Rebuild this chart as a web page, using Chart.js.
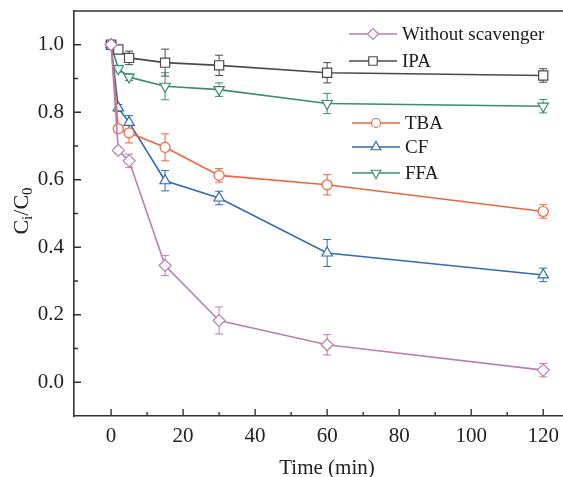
<!DOCTYPE html>
<html>
<head>
<meta charset="utf-8">
<script src="https://cdn.jsdelivr.net/npm/chart.js@4.4.0/dist/chart.umd.min.js"></script>
<style>
  body { margin: 0; background: #fff; }
</style>
</head>
<body>
<canvas id="chart" width="563" height="477"></canvas>
<script>
// time points (min)
const times = [0, 2, 5, 15, 30, 60, 120];

const seriesNames = ["Without scavenger", "IPA", "TBA", "CF", "FFA"];

// Ci/C0 values
const withoutScav = [1.0, 0.687, 0.656, 0.346, 0.183, 0.111, 0.036];
const ipa = [1.0, 0.986, 0.961, 0.947, 0.939, 0.917, 0.909];
const tba = [1.0, 0.751, 0.739, 0.696, 0.613, 0.585, 0.506];
const cf = [1.0, 0.813, 0.770, 0.597, 0.546, 0.383, 0.318];
const ffa = [1.0, 0.929, 0.904, 0.877, 0.867, 0.826, 0.818];

// error bar half-heights
const withoutScavErr = [0.01, 0.01, 0.02, 0.03, 0.04, 0.03, 0.02];
const ipaErr = [0.01, 0.01, 0.02, 0.04, 0.03, 0.03, 0.02];
const tbaErr = [0.01, 0.01, 0.03, 0.04, 0.02, 0.03, 0.02];
const cfErr = [0.01, 0.01, 0.02, 0.03, 0.02, 0.04, 0.02];
const ffaErr = [0.01, 0.01, 0.01, 0.04, 0.02, 0.03, 0.02];

const xTicks = [0, 20, 40, 60, 80, 100, 120];
const yTicks = [0.0, 0.2, 0.4, 0.6, 0.8, 1.0];

const allValues = [withoutScav, ipa, tba, cf, ffa];
const allErrors = [withoutScavErr, ipaErr, tbaErr, cfErr, ffaErr];
const colors = ["#b97fb4", "#4a4a4a", "#f0643f", "#2f6cb2", "#3c8c70"];
const markers = ["rectRot", "rect", "circle", "triangle", "triangle"];
const markerRot = [0, 0, 0, 0, 180];
const markerSize = [6, 6.5, 5, 6, 6];

const serif = "'Liberation Serif', 'DejaVu Serif', serif";

const datasets = seriesNames.map((name, i) => ({
  label: name,
  data: times.map((t, j) => ({ x: t, y: allValues[i][j] })),
  borderColor: colors[i],
  backgroundColor: "#ffffff",
  borderWidth: 1.6,
  pointStyle: markers[i],
  pointRotation: markerRot[i],
  pointRadius: markerSize[i],
  pointBorderWidth: 1.2,
  pointBackgroundColor: "#ffffff",
  pointBorderColor: colors[i],
  tension: 0
}));

const errorBarPlugin = {
  id: "errorBars",
  beforeDatasetsDraw(chart) {
    const ctx = chart.ctx;
    const xs = chart.scales.x;
    const ys = chart.scales.y;
    ctx.save();
    ctx.lineWidth = 1;
    allValues.forEach((vals, i) => {
      ctx.strokeStyle = colors[i];
      vals.forEach((v, j) => {
        const e = allErrors[i][j];
        const px = xs.getPixelForValue(times[j]);
        const top = ys.getPixelForValue(v + e);
        const bot = ys.getPixelForValue(v - e);
        ctx.beginPath();
        ctx.moveTo(px, top);
        ctx.lineTo(px, bot);
        ctx.moveTo(px - 4, top);
        ctx.lineTo(px + 4, top);
        ctx.moveTo(px - 4, bot);
        ctx.lineTo(px + 4, bot);
        ctx.stroke();
      });
    });
    ctx.restore();
  }
};

// inward ticks, top frame line, legend and axis titles
const decorPlugin = {
  id: "decor",
  afterDraw(chart) {
    const ctx = chart.ctx;
    const xs = chart.scales.x;
    const ys = chart.scales.y;
    const a = chart.chartArea;
    ctx.save();
    ctx.strokeStyle = "#333";
    ctx.lineWidth = 1.6;
    ctx.beginPath();
    ctx.moveTo(a.left, a.top);
    ctx.lineTo(a.right, a.top);
    ctx.stroke();

    ctx.lineWidth = 1.4;
    ctx.beginPath();
    for (let v = 0; v <= 120; v += 10) {
      const px = xs.getPixelForValue(v);
      const len = v % 20 === 0 ? 7 : 4;
      ctx.moveTo(px, a.bottom);
      ctx.lineTo(px, a.bottom - len);
    }
    for (let k = 0; k <= 10; k++) {
      const py = ys.getPixelForValue(k / 10);
      const len = k % 2 === 0 ? 7 : 4;
      ctx.moveTo(a.left, py);
      ctx.lineTo(a.left + len, py);
    }
    ctx.stroke();

    // legend
    const rows = [
      { x: 349, y: 34 }, { x: 349, y: 61 },
      { x: 352, y: 123 }, { x: 352, y: 147 }, { x: 352, y: 173 }
    ];
    ctx.font = "19px " + serif;
    ctx.textBaseline = "middle";
    chart.data.datasets.forEach((ds, i) => {
      const r = rows[i];
      ctx.strokeStyle = ds.borderColor;
      ctx.lineWidth = 1.6;
      ctx.beginPath();
      ctx.moveTo(r.x, r.y);
      ctx.lineTo(r.x + 48, r.y);
      ctx.stroke();
      ctx.fillStyle = "#fff";
      ctx.lineWidth = 1.2;
      Chart.helpers.drawPoint(ctx, {
        pointStyle: ds.pointStyle,
        rotation: ds.pointRotation,
        radius: ds.pointRadius - 0.5,
        borderWidth: 1.2
      }, r.x + 24, r.y);
      ctx.fillStyle = "#1a1a1a";
      ctx.fillText(ds.label, r.x + 53, r.y + 1);
    });

    // x title
    ctx.font = "21px " + serif;
    ctx.fillStyle = "#222";
    ctx.textAlign = "center";
    ctx.fillText("Time (min)", 327, 468);

    // y title Ci/C0
    ctx.translate(22, 211);
    ctx.rotate(-Math.PI / 2);
    const big = "22px " + serif;
    const small = "15px " + serif;
    const parts = [["C", big, 0], ["i", small, 6], ["/C", big, 0], ["0", small, 6]];
    let w = 0;
    parts.forEach(p => { ctx.font = p[1]; w += ctx.measureText(p[0]).width; });
    let cx = -w / 2;
    ctx.textAlign = "left";
    ctx.textBaseline = "middle";
    parts.forEach(p => {
      ctx.font = p[1];
      ctx.fillText(p[0], cx, p[2]);
      cx += ctx.measureText(p[0]).width;
    });
    ctx.restore();
  }
};

const ctx = document.getElementById("chart").getContext("2d");
window.myChart = new Chart(ctx, {
  type: "line",
  data: { datasets: datasets },
  options: {
    responsive: false,
    animation: false,
    devicePixelRatio: 1,
    layout: { autoPadding: false, padding: { top: 11, right: 0, left: 0, bottom: 0 } },
    plugins: {
      legend: { display: false },
      tooltip: { enabled: false }
    },
    scales: {
      x: {
        type: "linear",
        min: -10.3,
        max: 125.5,
        afterBuildTicks: (scale) => { scale.ticks = xTicks.map(v => ({ value: v })); },
        afterFit: (scale) => {
          scale.height = 61;
          scale.paddingLeft = 0;
          scale.paddingRight = 0;
        },
        grid: { display: false, drawTicks: false },
        border: { display: true, color: "#333", width: 1.6 },
        ticks: {
          padding: 8,
          color: "#222",
          font: { family: serif, size: 21 }
        }
      },
      y: {
        type: "linear",
        min: -0.1,
        max: 1.1,
        afterBuildTicks: (scale) => { scale.ticks = yTicks.map(v => ({ value: v })); },
        afterFit: (scale) => {
          scale.width = 74;
          scale.paddingTop = 0;
          scale.paddingBottom = 0;
        },
        grid: { display: false, drawTicks: false },
        border: { display: true, color: "#333", width: 1.6 },
        ticks: {
          padding: 10,
          color: "#222",
          font: { family: serif, size: 21 },
          callback: (v) => v.toFixed(1)
        }
      }
    }
  },
  plugins: [errorBarPlugin, decorPlugin]
});
</script>
</body>
</html>
